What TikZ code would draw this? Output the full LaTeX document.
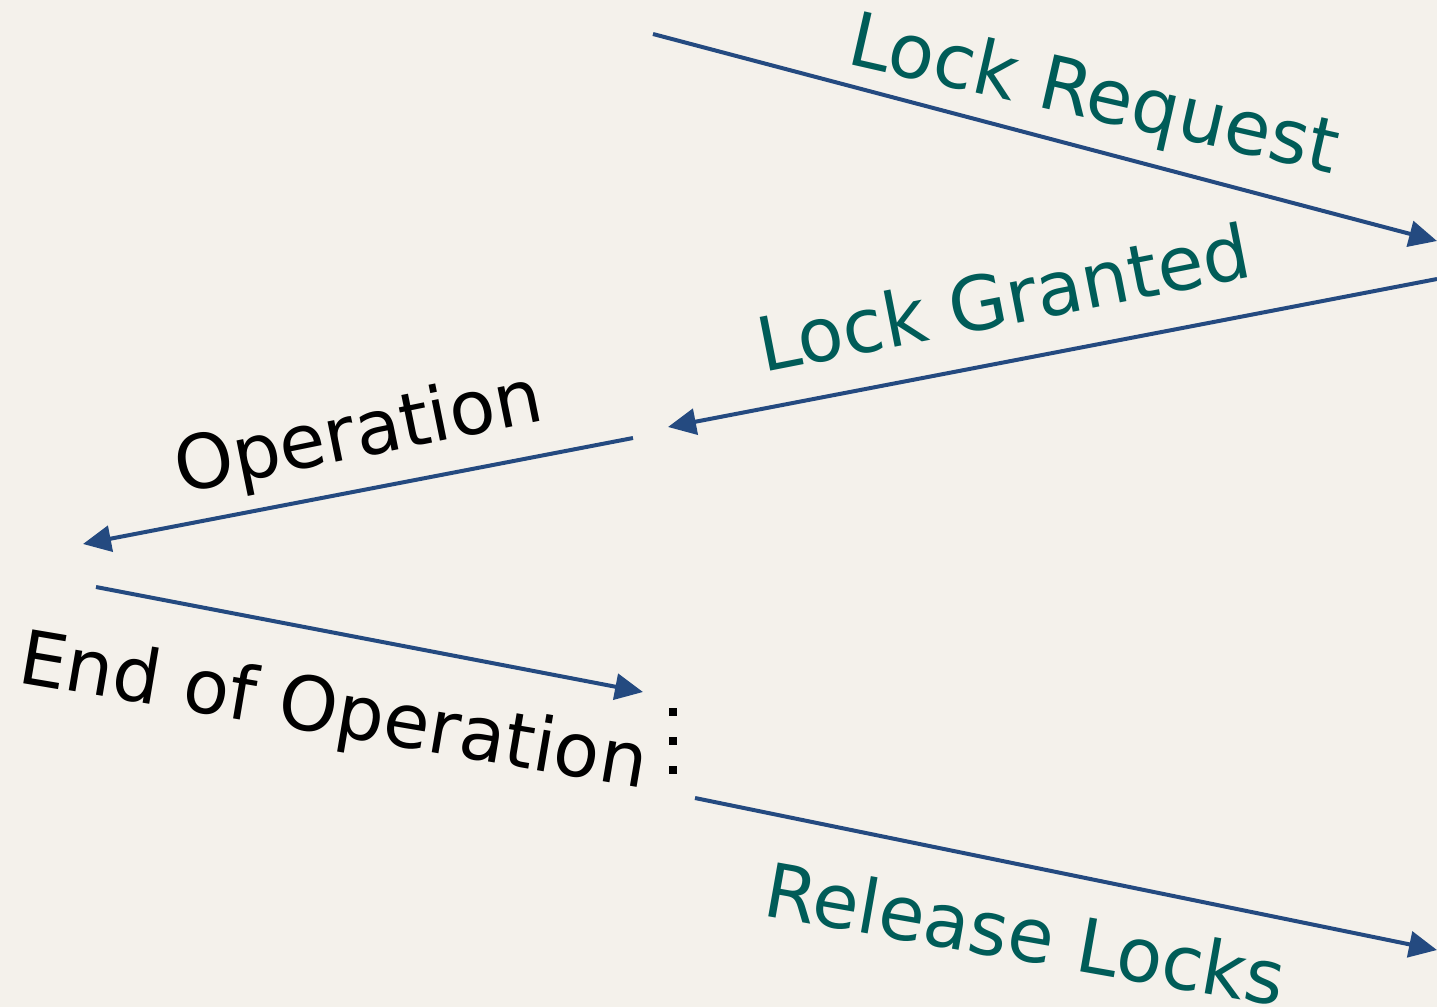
\documentclass[tikz,border=0pt]{standalone}
\usepackage{fontspec}
\setmainfont{DejaVu Sans}
\usetikzlibrary{arrows.meta}
\definecolor{paper}{RGB}{244,241,235}
\definecolor{msgblue}{RGB}{36,74,128}
\definecolor{msgteal}{RGB}{0,92,88}
\tikzset{
  msg/.style={draw=msgblue, line width=4pt, -{Triangle[length=28pt,width=26pt]}},
  tealtext/.style={inner sep=0pt, anchor=base west, text=msgteal,
                   font=\fontsize{75}{80}\selectfont},
  blacktext/.style={inner sep=0pt, anchor=base west, text=black,
                    font=\fontsize{75}{80}\selectfont},
  dotmark/.style={fill=black, draw=none, minimum size=8pt, inner sep=0pt, rectangle}
}
\begin{document}
\begin{tikzpicture}[x=1pt,y=-1pt]
  \fill[paper] (0,0) rectangle (1437,1007);
  \useasboundingbox (0,0) rectangle (1437,1007);

  % arrow end points
  \coordinate (lrS) at (653,34);
  \coordinate (lrE) at (1437,241);
  \coordinate (lgS) at (1437,279);
  \coordinate (lgE) at (668,427);
  \coordinate (opS) at (633,438);
  \coordinate (opE) at (83,544);
  \coordinate (eoS) at (96,587);
  \coordinate (eoE) at (643,692);
  \coordinate (rlS) at (695,798);
  \coordinate (rlE) at (1437,950);

  % messages
  \draw[msg] (lrS) -- (lrE);
  \draw[msg] (lgS) -- (lgE);
  \draw[msg] (opS) -- (opE);
  \draw[msg] (eoS) -- (eoE);
  \draw[msg] (rlS) -- (rlE);

  % labels
  \node[tealtext, rotate=-12.8] (lrL) at (845,63) {Lock Request};
  \node[tealtext, rotate=11.1] (lgL) at (763,373) {Lock Granted};
  \node[blacktext, rotate=11.5] (opL) at (180,494) {Operation};
  \node[blacktext, rotate=-9.6] (eoL) at (16,682) {End of Operation};
  \node[tealtext, rotate=-10] (rlL) at (761,915) {Release Locks};

  % vertical ellipsis
  \node[dotmark] (d1) at (673,712) {};
  \node[dotmark] (d2) at (673,741) {};
  \node[dotmark] (d3) at (673,770) {};
\end{tikzpicture}
\end{document}
